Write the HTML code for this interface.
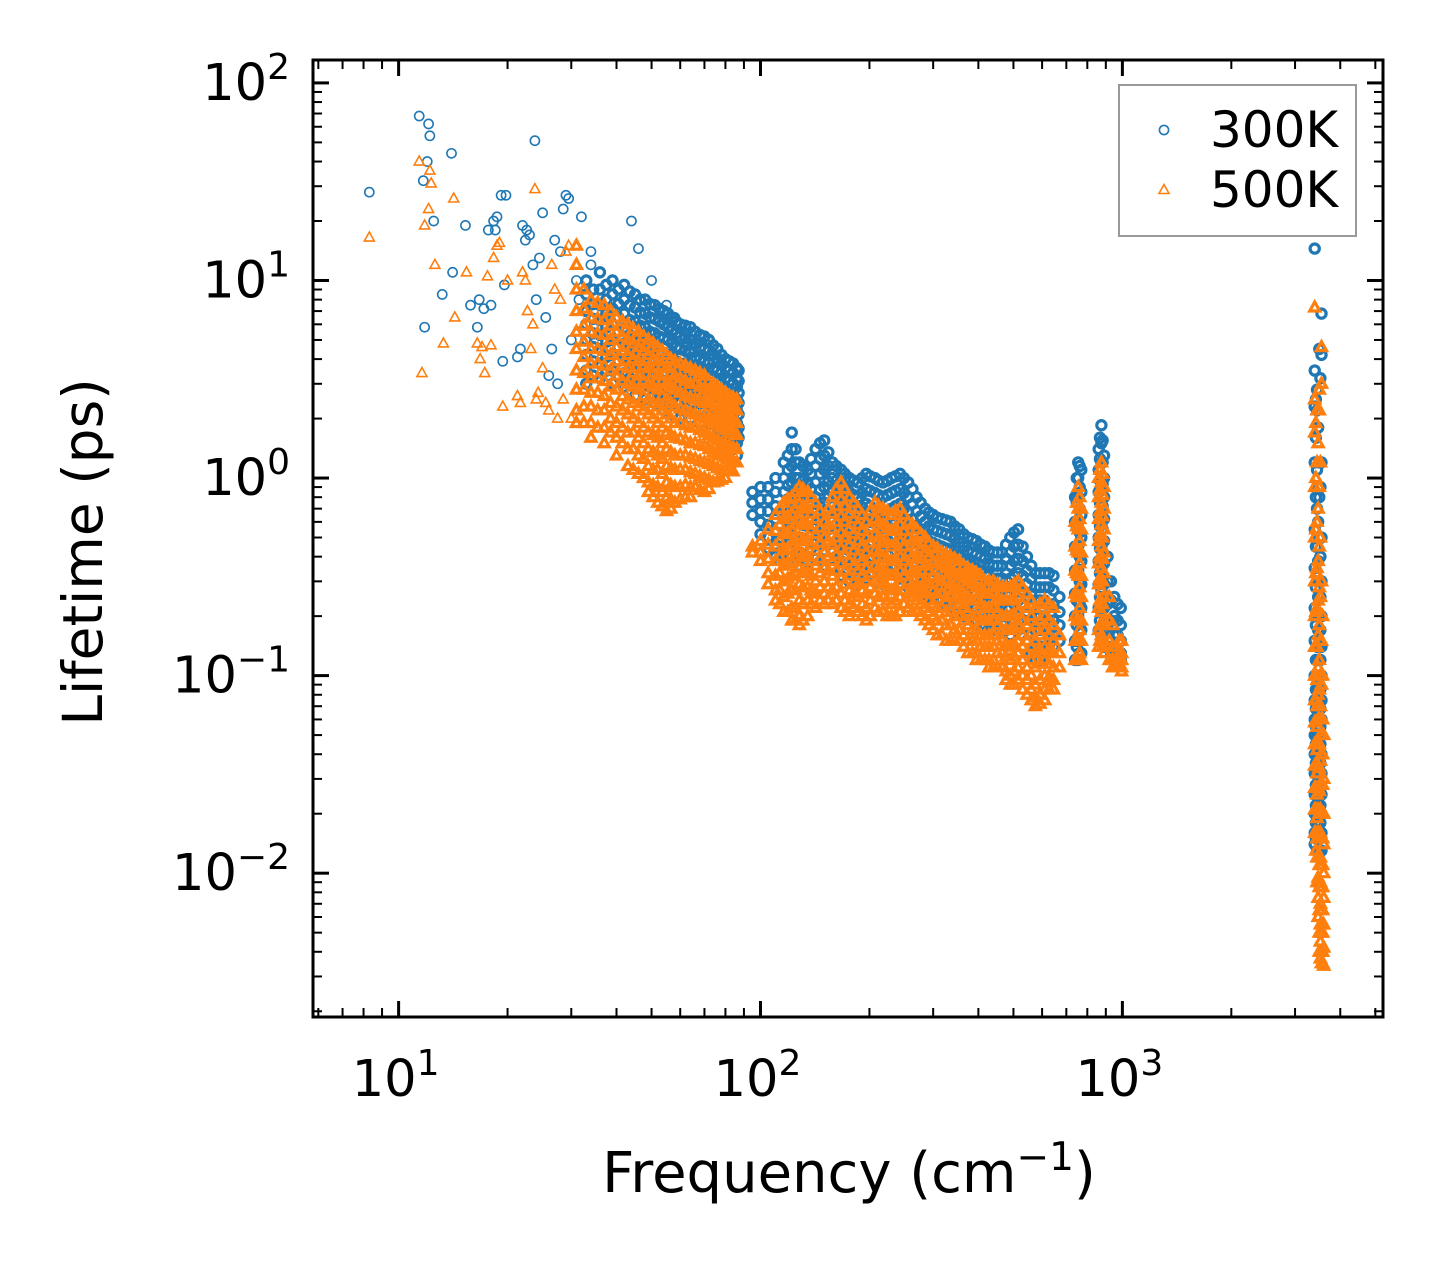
<!DOCTYPE html>
<html><head><meta charset="utf-8"><style>
html,body{margin:0;padding:0;background:#fff;}
svg text{font-family:"DejaVu Sans","Liberation Sans",sans-serif;}
</style></head><body>
<svg id="chart" width="1442" height="1266" viewBox="0 0 1442 1266" xmlns="http://www.w3.org/2000/svg">
<rect width="1442" height="1266" fill="#fff"/>
<g id="marks"></g>
<g id="axes"></g>
</svg>
<script>
// ---- data: [frequency (cm^-1), [lifetimes (ps)]] ----
const sparse300 = [[8.3,[28]],[11.4,[68]],[11.7,[32]],[11.8,[5.8]],[12.0,[40]],[12.1,[62]],[12.2,[54]],[12.5,[20]],[13.2,[8.5]],[14.0,[44]],[14.1,[11]],[15.3,[19]],[15.8,[7.5]],[16.5,[5.8]],[16.7,[8]],[17.2,[7.2]],[17.7,[18]],[18.0,[7.5]],[18.3,[20]],[18.5,[18]],[18.7,[21]],[19.2,[27]],[19.4,[3.9]],[19.6,[9.5]],[19.8,[27]],[21.3,[4.1]],[21.7,[4.5]],[22,[19]],[22.4,[16]],[22.6,[18]],[23,[17]],[23.5,[12]],[23.8,[51]],[24,[8]],[24.5,[13]],[25,[22]],[25.5,[6.5]],[26,[3.3]],[26.5,[4.5]],[27,[16]],[27.5,[3]],[28,[14]],[28.5,[23]],[29,[27]],[29.5,[26]],[30,[5]],[31,[10]],[31.5,[8]],[32,[21]],[34,[12,14]],[44,[20]],[46,[14.5]],[50,[10]],[55,[7.5]],[58,[6.5]],[65,[5]],[70,[5.2]]];
const dense300 = [
[33,[10,8.5,7,6,5,4.2,3.5,3]],[34.5,[9,7.6,6.4,5.4,4.6,3.9,3.3]],[36,[11,9,7.5,6.3,5.3,4.5,3.8,3.2]],[37.5,[9.5,8,6.8,5.8,4.9,4.1,3.5]],[39,[10,8.5,7.2,6,5,4.2,3.5,3]],[40.5,[9,7.6,6.5,5.5,4.6,3.9,3.3]],[42,[9.5,8,6.8,5.7,4.8,4,3.4,2.9]],[43.5,[8.8,7.5,6.3,5.3,4.5,3.8,3.2]],[45,[8.5,7.3,6.2,5.2,4.4,3.7,3.1,2.6]],[46.5,[8,6.9,5.9,5,4.2,3.6,3]],[48,[8,6.8,5.8,4.9,4.1,3.5,3,2.5]],[49.5,[7.6,6.5,5.5,4.7,4,3.4,2.9]],[51,[7.5,6.4,5.4,4.6,3.9,3.3,2.8,2.4]],[52.5,[7.2,6.2,5.2,4.4,3.8,3.2,2.7]],[54,[7,6,5.1,4.3,3.7,3.1,2.6,2.2]],[55.5,[6.8,5.8,5,4.2,3.6,3,2.5]],[57,[6.5,5.6,4.8,4.1,3.5,3,2.5,2.1]],[58.5,[6.2,5.4,4.6,3.9,3.4,2.9,2.4]],[60,[6,5.2,4.5,3.8,3.3,2.8,2.4,2]],[62,[5.9,5.1,4.4,3.8,3.2,2.8,2.3]],[64,[5.8,5,4.3,3.7,3.2,2.7,2.3,2]],[66,[5.5,4.8,4.1,3.6,3.1,2.6,2.2]],[68,[5.3,4.6,4,3.5,3,2.6,2.2,1.9]],[70,[5.2,4.5,3.9,3.4,2.9,2.5,2.2]],[72,[5,4.4,3.8,3.3,2.9,2.5,2.2,1.9]],[74,[4.7,4.2,3.6,3.2,2.8,2.4,2.1]],[76,[4.5,4,3.5,3.1,2.7,2.3,2,1.8]],[78,[4.2,3.8,3.4,3,2.6,2.3,2,1.7]],[80,[4,3.6,3.2,2.8,2.5,2.2,1.9,1.7,1.5]],[82,[3.9,3.5,3.1,2.8,2.5,2.2,1.9,1.7,1.5]],[84,[3.8,3.4,3,2.7,2.4,2.1,1.8,1.6,1.4,1.2]],[86,[3.6,3.2,2.9,2.5,2.2,1.9,1.7,1.5,1.3]],[87,[3.5,3.1,2.7,2.4,2.1,1.8,1.6]],
[95,[0.85,0.75,0.65]],[100,[0.9,0.78,0.68,0.6,0.52]],[105,[0.9,0.78,0.68,0.58,0.5,0.44]],[110,[1.0,0.85,0.72,0.62,0.53,0.46,0.4]],[116,[1.2,1.0,0.85,0.72,0.62,0.53,0.45,0.38]],[119,[1.3,1.1,0.92,0.78,0.66,0.56,0.47]],[122,[1.7,1.4,1.15,0.95,0.8,0.68,0.57,0.48,0.4]],[125,[1.4,1.2,1.0,0.84,0.7,0.59,0.5]],[128,[1.2,1.0,0.85,0.72,0.6,0.5,0.42,0.36]],[131,[1.15,0.97,0.82,0.7,0.58,0.49,0.41]],[135,[1.1,0.93,0.8,0.68,0.57,0.48,0.4,0.34]],[138,[1.25,1.05,0.88,0.74,0.62,0.52,0.44]],[142,[1.4,1.15,0.95,0.8,0.67,0.56,0.47,0.39]],[146,[1.5,1.25,1.05,0.87,0.72,0.6,0.5]],[150,[1.55,1.3,1.1,0.9,0.75,0.62,0.52,0.43,0.36]],[154,[1.35,1.15,0.96,0.8,0.67,0.56,0.47]],[158,[1.2,1.0,0.85,0.72,0.6,0.5,0.42,0.35]],[162,[1.15,0.97,0.82,0.69,0.58,0.48,0.4]],[167,[1.1,0.93,0.78,0.66,0.55,0.46,0.38,0.32]],[171,[1.05,0.89,0.75,0.63,0.53,0.44,0.37]],[176,[1.0,0.85,0.72,0.61,0.51,0.43,0.36,0.3]],[181,[0.97,0.82,0.7,0.59,0.49,0.41,0.35]],[186,[0.95,0.8,0.68,0.57,0.48,0.4,0.34,0.29]],[191,[1.0,0.84,0.71,0.6,0.5,0.42,0.35]],[196,[1.05,0.88,0.74,0.62,0.52,0.44,0.37,0.31]],[201,[1.02,0.86,0.72,0.6,0.51,0.43,0.36]],[207,[1.0,0.84,0.7,0.59,0.5,0.42,0.35,0.3]],[212,[0.97,0.82,0.68,0.57,0.48,0.41,0.34]],[218,[0.95,0.8,0.67,0.56,0.47,0.4,0.34,0.29]],[224,[0.97,0.82,0.68,0.57,0.48,0.41,0.34]],[230,[1.0,0.84,0.7,0.59,0.5,0.42,0.35,0.3]],[236,[1.02,0.86,0.72,0.6,0.51,0.43,0.36]],[243,[1.05,0.88,0.74,0.62,0.52,0.44,0.37,0.31]],[249,[1.0,0.84,0.7,0.59,0.5,0.42,0.35]],[256,[0.95,0.8,0.67,0.56,0.47,0.4,0.34,0.28]],[263,[0.88,0.74,0.62,0.52,0.44,0.37,0.31]],[270,[0.8,0.68,0.57,0.48,0.4,0.34,0.28]],[277,[0.75,0.64,0.54,0.45,0.38,0.32,0.27]],[285,[0.7,0.6,0.5,0.42,0.35,0.3,0.26]],[292,[0.67,0.57,0.48,0.41,0.34,0.29,0.25]],[300,[0.65,0.55,0.47,0.4,0.34,0.29,0.25]],[308,[0.63,0.54,0.46,0.39,0.33,0.28,0.24]],[317,[0.62,0.53,0.45,0.38,0.32,0.27,0.24]],[326,[0.61,0.52,0.44,0.37,0.31,0.27,0.23]],[335,[0.6,0.51,0.43,0.36,0.31,0.26,0.22]],[344,[0.57,0.49,0.41,0.35,0.3,0.25,0.21]],[354,[0.55,0.47,0.4,0.34,0.29,0.25,0.21]],[364,[0.52,0.45,0.38,0.33,0.28,0.24,0.2]],[374,[0.5,0.43,0.37,0.32,0.27,0.23,0.2]],[385,[0.49,0.42,0.36,0.31,0.26,0.22,0.19]],[395,[0.48,0.41,0.35,0.3,0.26,0.22,0.19]],[406,[0.46,0.4,0.34,0.29,0.25,0.21,0.18]],[417,[0.45,0.39,0.33,0.28,0.24,0.21,0.18]],[428,[0.43,0.37,0.32,0.27,0.23,0.2,0.17]],[440,[0.42,0.36,0.31,0.27,0.23,0.2,0.17]],[452,[0.42,0.36,0.31,0.27,0.23,0.2,0.17]],[465,[0.42,0.36,0.31,0.27,0.23,0.2,0.17]],[477,[0.46,0.39,0.33,0.28,0.24,0.2,0.17]],[490,[0.5,0.42,0.36,0.31,0.26,0.22,0.19,0.16]],[502,[0.53,0.45,0.38,0.32,0.27,0.23,0.19]],[515,[0.55,0.46,0.39,0.33,0.28,0.24,0.2,0.17]],[530,[0.45,0.38,0.32,0.27,0.23,0.19,0.16]],[545,[0.4,0.34,0.29,0.25,0.21,0.18,0.15]],[560,[0.36,0.31,0.26,0.22,0.19,0.16,0.13]],[575,[0.33,0.28,0.24,0.2,0.17,0.14,0.12]],[592,[0.33,0.28,0.24,0.2,0.17,0.14,0.12]],[610,[0.33,0.28,0.24,0.2,0.17,0.14,0.12]],[627,[0.33,0.28,0.23,0.19,0.16,0.14]],[645,[0.32,0.27,0.23,0.19,0.16,0.14]],[670,[0.25,0.21,0.18,0.15]],
[740,[0.8,0.6,0.45,0.34,0.26,0.2,0.15,0.12]],[748,[1.0,0.75,0.56,0.42,0.32,0.24,0.18,0.14]],[755,[1.2,1.0,0.8,0.6,0.45,0.34,0.26,0.2,0.15,0.12]],[762,[1.15,0.9,0.7,0.53,0.4,0.3,0.23,0.17,0.13]],[770,[1.1,0.85,0.65,0.5,0.38,0.29,0.22,0.17,0.13]],[860,[1.4,1.1,0.85,0.65,0.5,0.38,0.29,0.22,0.17]],[867,[1.6,1.25,0.97,0.75,0.57,0.44,0.33,0.25,0.19]],[875,[1.85,1.5,1.2,0.95,0.75,0.58,0.45,0.35,0.27,0.21,0.16]],[882,[1.55,1.2,0.93,0.72,0.55,0.42,0.32,0.24,0.18]],[890,[1.3,1.0,0.8,0.62,0.48,0.37,0.29,0.22,0.17,0.14]],[910,[0.4,0.3,0.23,0.18,0.14]],[930,[0.3,0.24,0.19,0.15,0.13]],[950,[0.25,0.2,0.16,0.13]],[970,[0.23,0.19,0.16,0.13]],[990,[0.22,0.18,0.15,0.13,0.12]],
[3400,[14.5,3.5,2.3,1.2,0.55,0.35,0.22,0.15,0.1,0.075,0.06,0.05,0.04,0.032,0.025,0.02,0.016,0.014]],[3425,[2.5,1.6,0.8,0.45,0.28,0.18,0.12,0.085,0.068,0.055,0.045,0.036,0.028,0.022,0.018,0.015]],[3450,[2.8,2.2,1.1,0.7,0.45,0.3,0.2,0.14,0.1,0.075,0.06,0.05,0.04,0.032,0.025,0.02,0.016,0.013]],[3475,[1.8,0.9,0.6,0.38,0.25,0.17,0.12,0.085,0.068,0.055,0.045,0.036,0.028,0.022,0.018,0.015]],[3500,[4.5,1.2,0.8,0.5,0.3,0.2,0.14,0.1,0.075,0.06,0.05,0.04,0.032,0.025,0.02,0.016,0.013]],[3525,[3.2,0.9,0.4,0.25,0.17,0.12,0.085,0.068,0.055,0.045,0.036,0.028,0.022,0.018,0.015]],[3550,[6.8,4.2,1.2,0.5,0.3,0.2,0.14,0.1,0.075,0.06,0.05,0.04,0.032,0.025,0.02,0.016,0.013]]];
const sparse500 = [[8.3,[16.5]],[11.4,[40]],[11.6,[3.4]],[11.8,[19]],[12.1,[23]],[12.2,[36]],[12.3,[31]],[12.6,[12]],[13.3,[4.8]],[14.2,[26]],[14.3,[6.5]],[15.4,[11]],[16.5,[4.8]],[16.8,[4]],[17,[4.6]],[17.3,[3.4]],[17.6,[10.5]],[18,[4.7]],[18.3,[13]],[18.7,[15]],[19,[15.5]],[19.4,[2.3]],[20,[10]],[21.3,[2.6]],[21.7,[2.4]],[22,[11]],[22.4,[10]],[22.7,[7]],[23.2,[4.5]],[23.5,[6]],[23.8,[29]],[24,[2.5]],[24.3,[2.7]],[25,[3.6]],[25.5,[2.4]],[26,[2.2]],[26.5,[12]],[27,[9]],[27.5,[2]],[28,[8]],[28.5,[2.5]],[29,[14]],[29.5,[15]],[30,[2]]];
const dense500 = [
[31,[15,12,9,7,5.5,4.5,3.5,2.8,2.2,1.9]],[32.5,[9,7.2,5.9,4.9,4.1,3.4,2.8,2.3,1.9]],[34,[8,6.5,5.5,4.5,3.8,3.2,2.7,2.3,1.9,1.6]],[35.5,[7.7,6.4,5.4,4.5,3.8,3.2,2.7,2.2,1.8]],[37,[7.5,6.3,5.3,4.4,3.7,3.1,2.6,2.2,1.8,1.5]],[38.5,[7,5.9,5,4.2,3.5,2.9,2.4,2,1.7]],[40,[6.5,5.5,4.6,3.9,3.3,2.8,2.3,1.9,1.6,1.3]],[41.5,[6.2,5.2,4.4,3.7,3.1,2.6,2.2,1.8,1.5]],[43,[6,5,4.2,3.6,3,2.5,2.1,1.7,1.4,1.15]],[44.5,[5.7,4.8,4,3.4,2.9,2.4,2,1.7,1.4,1.1]],[46,[5.5,4.6,3.9,3.3,2.8,2.3,1.9,1.6,1.3,1.05]],[47.5,[5.2,4.4,3.7,3.1,2.6,2.2,1.8,1.5,1.25,1.0]],[49,[5,4.2,3.6,3,2.5,2.1,1.7,1.4,1.15,0.95,0.85]],[50.5,[4.8,4,3.4,2.9,2.4,2,1.65,1.35,1.1,0.92,0.8]],[52,[4.6,3.9,3.3,2.8,2.3,1.9,1.6,1.3,1.1,0.9,0.75]],[53.5,[4.4,3.7,3.1,2.6,2.2,1.8,1.5,1.25,1.05,0.85,0.72]],[55,[4.2,3.6,3,2.5,2.1,1.7,1.4,1.15,0.95,0.8,0.68]],[56.5,[4,3.4,2.9,2.4,2,1.65,1.35,1.12,0.92,0.78,0.7]],[58,[3.9,3.3,2.8,2.3,1.9,1.6,1.3,1.1,0.9,0.75]],[60,[3.8,3.2,2.7,2.25,1.9,1.58,1.3,1.1,0.9,0.78]],[62,[3.7,3.1,2.6,2.2,1.85,1.55,1.3,1.1,0.92,0.8]],[64,[3.6,3,2.55,2.15,1.8,1.5,1.27,1.07,0.9,0.8]],[66,[3.5,3,2.5,2.1,1.8,1.5,1.25,1.05,0.9]],[68,[3.4,2.9,2.45,2.05,1.75,1.47,1.22,1.02,0.87]],[70,[3.3,2.8,2.4,2,1.7,1.45,1.2,1,0.85]],[72,[3.1,2.7,2.3,1.95,1.65,1.4,1.18,0.98,0.88]],[74,[3,2.6,2.2,1.9,1.6,1.35,1.15,0.95]],[76,[2.9,2.5,2.15,1.85,1.55,1.32,1.12,0.96]],[78,[2.8,2.4,2.1,1.8,1.5,1.3,1.1,0.98]],[80,[2.7,2.35,2.05,1.75,1.48,1.27,1.1,1.0]],[82,[2.6,2.3,2,1.7,1.45,1.25,1.1]],[84,[2.55,2.25,1.95,1.68,1.42,1.22,1.08]],[86,[2.5,2.2,1.9,1.65,1.4,1.2]],
[95,[0.45,0.42]],[100,[0.48,0.42,0.38]],[105,[0.55,0.46,0.39,0.33,0.29]],[110,[0.65,0.54,0.45,0.38,0.32,0.27,0.24]],[113,[0.7,0.58,0.48,0.4,0.33,0.27,0.23]],[116,[0.75,0.62,0.52,0.43,0.36,0.3,0.25,0.21]],[119,[0.78,0.64,0.53,0.44,0.37,0.31,0.26,0.21]],[122,[0.8,0.66,0.55,0.46,0.38,0.32,0.27,0.22,0.19]],[125,[0.85,0.7,0.58,0.48,0.4,0.33,0.27,0.22,0.19]],[128,[0.9,0.74,0.61,0.5,0.42,0.35,0.29,0.24,0.2,0.18]],[131,[0.88,0.72,0.6,0.49,0.41,0.34,0.28,0.23,0.19]],[135,[0.85,0.7,0.58,0.48,0.4,0.33,0.28,0.24,0.2]],[138,[0.8,0.66,0.55,0.46,0.38,0.32,0.27,0.23]],[142,[0.75,0.62,0.52,0.43,0.36,0.3,0.26,0.22]],[146,[0.68,0.56,0.47,0.39,0.33,0.28,0.24]],[150,[0.6,0.5,0.42,0.35,0.3,0.26,0.23]],[154,[0.7,0.58,0.48,0.4,0.34,0.28,0.24]],[158,[0.8,0.66,0.55,0.46,0.38,0.32,0.27,0.23]],[162,[0.88,0.72,0.6,0.5,0.41,0.34,0.28,0.24]],[167,[0.95,0.78,0.64,0.53,0.44,0.37,0.31,0.26,0.22]],[171,[0.88,0.72,0.6,0.5,0.41,0.34,0.29,0.24,0.21]],[176,[0.8,0.66,0.55,0.46,0.38,0.32,0.27,0.23,0.2]],[181,[0.75,0.62,0.52,0.43,0.36,0.3,0.26,0.22]],[186,[0.7,0.58,0.48,0.4,0.34,0.29,0.25,0.21]],[191,[0.65,0.54,0.45,0.38,0.32,0.27,0.23,0.2]],[196,[0.6,0.5,0.42,0.35,0.3,0.26,0.22,0.19]],[201,[0.68,0.56,0.47,0.39,0.33,0.28,0.24,0.2]],[207,[0.75,0.62,0.52,0.43,0.36,0.3,0.26,0.22]],[212,[0.72,0.6,0.5,0.42,0.35,0.3,0.25,0.21]],[218,[0.7,0.58,0.48,0.4,0.34,0.29,0.25,0.21]],[224,[0.68,0.56,0.47,0.39,0.33,0.28,0.24,0.2]],[230,[0.65,0.54,0.45,0.38,0.32,0.27,0.23,0.2]],[236,[0.68,0.56,0.47,0.39,0.33,0.28,0.24,0.2]],[243,[0.7,0.58,0.48,0.4,0.34,0.29,0.25,0.21]],[249,[0.65,0.54,0.45,0.38,0.32,0.27,0.23]],[256,[0.6,0.5,0.42,0.35,0.3,0.26,0.22]],[263,[0.58,0.48,0.4,0.34,0.29,0.25,0.21]],[270,[0.55,0.46,0.39,0.33,0.28,0.24,0.21]],[277,[0.52,0.44,0.37,0.31,0.27,0.23,0.2]],[285,[0.5,0.42,0.36,0.3,0.26,0.22,0.19]],[292,[0.47,0.4,0.34,0.29,0.24,0.21,0.18]],[300,[0.45,0.38,0.32,0.27,0.23,0.2,0.17]],[308,[0.44,0.37,0.31,0.26,0.22,0.19,0.16]],[317,[0.42,0.36,0.3,0.26,0.22,0.19,0.16]],[326,[0.41,0.35,0.3,0.25,0.21,0.18,0.15]],[335,[0.4,0.34,0.29,0.25,0.21,0.18,0.15]],[344,[0.39,0.33,0.28,0.24,0.2,0.17,0.15]],[354,[0.38,0.32,0.27,0.23,0.2,0.17,0.15]],[364,[0.36,0.31,0.26,0.22,0.19,0.16,0.14]],[374,[0.35,0.3,0.25,0.21,0.18,0.15,0.13]],[385,[0.34,0.29,0.24,0.2,0.17,0.15,0.13]],[395,[0.33,0.28,0.24,0.2,0.17,0.15,0.13,0.12]],[406,[0.32,0.27,0.23,0.19,0.16,0.14,0.12]],[417,[0.3,0.26,0.22,0.19,0.16,0.14,0.12]],[428,[0.3,0.26,0.22,0.19,0.16,0.14,0.12,0.11]],[440,[0.3,0.26,0.22,0.19,0.16,0.14,0.12,0.11]],[452,[0.29,0.25,0.21,0.18,0.15,0.13,0.11]],[465,[0.28,0.24,0.2,0.17,0.15,0.13,0.11]],[477,[0.28,0.24,0.2,0.17,0.145,0.125,0.105,0.095]],[490,[0.28,0.24,0.2,0.17,0.14,0.12,0.1,0.09]],[502,[0.29,0.245,0.205,0.175,0.145,0.125,0.105,0.09]],[515,[0.3,0.25,0.21,0.18,0.15,0.13,0.11,0.095]],[530,[0.28,0.23,0.19,0.16,0.14,0.12,0.1,0.085]],[545,[0.26,0.22,0.18,0.15,0.13,0.11,0.095,0.08]],[560,[0.24,0.2,0.165,0.14,0.12,0.1,0.085,0.075]],[575,[0.22,0.18,0.15,0.13,0.11,0.09,0.078,0.07]],[592,[0.23,0.19,0.16,0.135,0.115,0.095,0.08,0.072]],[610,[0.24,0.2,0.17,0.14,0.12,0.1,0.085,0.075]],[627,[0.23,0.19,0.16,0.135,0.115,0.098,0.085]],[645,[0.22,0.18,0.15,0.13,0.11,0.095,0.085]],[670,[0.16,0.13,0.11]],
[740,[0.6,0.45,0.34,0.26,0.2,0.15,0.12]],[748,[0.75,0.57,0.43,0.33,0.25,0.19,0.15,0.12]],[755,[0.9,0.7,0.55,0.42,0.32,0.25,0.19,0.15,0.12]],[762,[0.8,0.62,0.48,0.37,0.28,0.22,0.17,0.13]],[770,[0.7,0.55,0.42,0.32,0.25,0.19,0.15,0.12]],[860,[1.0,0.8,0.62,0.48,0.37,0.29,0.22,0.17,0.14]],[867,[1.1,0.87,0.68,0.52,0.4,0.31,0.24,0.18,0.15]],[875,[1.2,0.95,0.75,0.58,0.45,0.35,0.27,0.21,0.16]],[882,[1.05,0.82,0.64,0.5,0.39,0.3,0.23,0.18,0.14]],[890,[0.9,0.7,0.55,0.42,0.33,0.25,0.19,0.15,0.13]],[920,[0.25,0.19,0.15,0.12]],[940,[0.18,0.14,0.12,0.11]],[960,[0.14,0.12,0.11]],[980,[0.15,0.13,0.12,0.11]],[995,[0.15,0.13,0.12,0.11,0.105]],
[3400,[7.3,2.5,1.7,0.9,0.5,0.3,0.2,0.14,0.1,0.075,0.058,0.045,0.035,0.027,0.021,0.016]],[3425,[1.9,1.0,0.55,0.33,0.21,0.14,0.1,0.075,0.058,0.045,0.035,0.027,0.021,0.016,0.013]],[3450,[2.2,1.2,0.6,0.35,0.22,0.14,0.095,0.07,0.055,0.042,0.032,0.025,0.019,0.015,0.012,0.009]],[3475,[1.5,0.7,0.38,0.24,0.16,0.11,0.08,0.06,0.046,0.035,0.027,0.021,0.016,0.012,0.0095,0.0075,0.006]],[3500,[2.8,2.2,0.9,0.45,0.28,0.18,0.12,0.085,0.06,0.045,0.034,0.026,0.02,0.015,0.011,0.0085,0.0065,0.005,0.004]],[3525,[1.2,0.5,0.25,0.15,0.1,0.07,0.05,0.037,0.028,0.021,0.016,0.012,0.009,0.007,0.0055,0.0045,0.0037]],[3550,[4.6,3,0.3,0.15,0.09,0.06,0.04,0.028,0.02,0.015,0.011,0.0085,0.0065,0.005,0.004,0.0035]],[3575,[0.2,0.1,0.06,0.04,0.028,0.02,0.015,0.011,0.0085,0.0065,0.005,0.004,0.0035]],[3600,[0.05,0.03,0.02,0.014,0.01,0.0075,0.0055,0.0042,0.0034]]];
const xTickLabels = ["1","2","3"];
const yTickLabels = ["-2","-1","0","1","2"];
const seriesNames = ["300K","500K"];

const NS = "http://www.w3.org/2000/svg";
const L = 313, R = 1383, T = 60, B = 1017;
const xMin = Math.log10(5.8), xMax = Math.log10(5250);
const yMin = -2.728, yMax = 2.116;
function xs(v){ return L + (Math.log10(v) - xMin) / (xMax - xMin) * (R - L); }
function ys(v){ return B - (Math.log10(v) - yMin) / (yMax - yMin) * (B - T); }
function mk(tag, attrs, parent){ const e = document.createElementNS(NS, tag); for (const k in attrs) e.setAttribute(k, attrs[k]); parent.appendChild(e); return e; }
const marks = document.getElementById('marks');
const axes = document.getElementById('axes');
const blue = "#1f77b4", orange = "#ff7f0e";

function circle(x, y, parent, sw){
  const c = mk('circle', {cx:x, cy:y, r:4.6, fill:'none', stroke:blue, 'stroke-width':sw}, parent);
  
  
}
function tri(x, y, parent, sw){
  const p = mk('path', {d:`M${x},${y-5.5}L${x+5},${y+3.5}L${x-5},${y+3.5}Z`, fill:'none', stroke:orange, 'stroke-width':sw}, parent);
  
  
}
const g300 = mk('g', {}, marks);


const g500 = mk('g', {}, marks);


sparse300.forEach(([f, ls]) => ls.forEach(l => circle(xs(f), ys(l), g300, 1.6)));
dense300.forEach(([f, ls]) => ls.forEach(l => circle(xs(f), ys(l), g300, 3.2)));
sparse500.forEach(([f, ls]) => ls.forEach(l => tri(xs(f), ys(l), g500, 1.6)));
dense500.forEach(([f, ls]) => ls.forEach(l => tri(xs(f), ys(l), g500, 3.2)));

const frame = mk('rect', {x:L, y:T, width:R-L, height:B-T, fill:'none', stroke:'#000', 'stroke-width':3}, axes);


for (let d = 0; d <= 4; d++) for (let m = 1; m <= 9; m++) {
  const v = m * Math.pow(10, d); const x = xs(v);
  if (x < L || x > R) continue;
  const len = m === 1 ? 16 : 9, w = m === 1 ? 3 : 2;
  const t1 = mk('line', {x1:x, x2:x, y1:B, y2:B-len, stroke:'#000', 'stroke-width':w}, axes);
  
  
  const t2 = mk('line', {x1:x, x2:x, y1:T, y2:T+len, stroke:'#000', 'stroke-width':w}, axes);
  
  
}
for (let d = -3; d <= 2; d++) for (let m = 1; m <= 9; m++) {
  const v = m * Math.pow(10, d); const y = ys(v);
  if (y < T || y > B) continue;
  const len = m === 1 ? 16 : 9, w = m === 1 ? 3 : 2;
  const t1 = mk('line', {x1:L, x2:L+len, y1:y, y2:y, stroke:'#000', 'stroke-width':w}, axes);
  
  
  const t2 = mk('line', {x1:R, x2:R-len, y1:y, y2:y, stroke:'#000', 'stroke-width':w}, axes);
  
  
}
xTickLabels.forEach(e => {
  const x = xs(Math.pow(10, +e));
  const t = mk('text', {x:x-3, y:1096, 'font-size':51, 'text-anchor':'middle'}, axes);
  
  
  t.innerHTML = `10<tspan dy="-21" font-size="36">${e}</tspan>`;
});
yTickLabels.forEach(e => {
  const y = ys(Math.pow(10, +e));
  const t = mk('text', {x:290, y:y+17, 'font-size':51, 'text-anchor':'end'}, axes);
  
  
  const exp = e.startsWith('-') ? '\u2212' + e.slice(1) : e;
  t.innerHTML = `10<tspan dy="-21" font-size="36">${exp}</tspan>`;
});
const xl = mk('text', {x:849, y:1192, 'font-size':56, 'text-anchor':'middle'}, axes);


xl.innerHTML = 'Frequency (cm<tspan dy="-22" font-size="39">\u22121</tspan><tspan dy="22">)</tspan>';
const yl = mk('text', {x:0, y:0, 'font-size':55, 'text-anchor':'middle', transform:'translate(102,552) rotate(-90)'}, axes);


yl.textContent = 'Lifetime (ps)';
const lg = mk('g', {}, axes);


mk('rect', {x:1119, y:85, width:237, height:151, fill:'#fff', 'fill-opacity':0.8, stroke:'#999', 'stroke-width':2}, lg);
seriesNames.forEach((n, i) => {
  const y = 130 + i * 60;
  if (i === 0) circle(1164, y, lg, 1.6); else tri(1164, y, lg, 1.6);
  const t = mk('text', {x:1210, y:y+17, 'font-size':50}, lg);
  
  
  t.textContent = n;
});
</script>
</body></html>
